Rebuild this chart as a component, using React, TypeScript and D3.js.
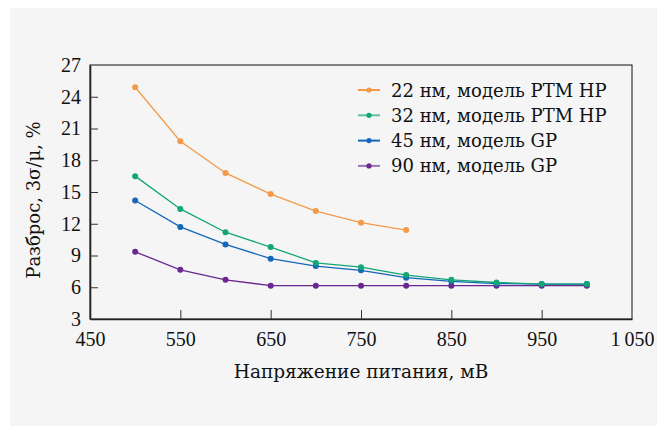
import React, { useEffect, useRef } from 'react';
import * as d3 from 'd3';

const voltages = [500, 550, 600, 650, 700, 750, 800, 850, 900, 950, 1000];
const seriesNames = [
  '22 нм, модель PTM HP',
  '32 нм, модель PTM HP',
  '45 нм, модель GP',
  '90 нм, модель GP',
];
const colors = ['#F39A4A', '#12A576', '#1467BA', '#69278F'];
const legendLineColors = ['#F39A4A', '#5CC29C', '#1467BA', '#9C73B8'];
const nm22 = [24.9, 19.8, 16.8, 14.8, 13.2, 12.1, 11.4];
const nm32 = [16.5, 13.4, 11.2, 9.8, 8.3, 7.9, 7.15, 6.7, 6.45, 6.3, 6.3];
const nm45 = [14.2, 11.7, 10.05, 8.7, 8.0, 7.6, 6.9, 6.55, 6.35, 6.3, 6.3];
const nm90 = [9.35, 7.65, 6.7, 6.15, 6.15, 6.15, 6.15, 6.15, 6.15, 6.15, 6.15];
const xTicks = [450, 550, 650, 750, 850, 950, 1050];
const yTicks = [3, 6, 9, 12, 15, 18, 21, 24, 27];

const font = '"DejaVu Serif", serif';
const tickFont = '"Liberation Serif", serif';

const App: React.FC = () => {
  const svgRef = useRef<SVGSVGElement>(null);

  useEffect(() => {
    if (!svgRef.current) return;
    const svg = d3.select(svgRef.current);
    svg.selectAll('*').remove();

    const width = 657;
    const height = 426;
    const margin = { top: 65, right: 25, bottom: 107, left: 90 };

    // background panel
    svg.append('rect')
      .attr('x', 10).attr('y', 8)
      .attr('width', width - 10).attr('height', height - 8)
      .attr('fill', '#f5f5f5');

    const x = d3.scaleLinear().domain([450, 1050]).range([margin.left, width - margin.right]);
    const y = d3.scaleLinear().domain([3, 27]).range([height - margin.bottom, margin.top]);

    const all = [nm22, nm32, nm45, nm90];

    // frame (top/right thin)
    svg.append('rect')
      .attr('x', x(450)).attr('y', y(27))
      .attr('width', x(1050) - x(450)).attr('height', y(3) - y(27))
      .attr('fill', 'none').attr('stroke', '#111').attr('stroke-width', 1);

    // x axis
    const xAxis = svg.append('g')
      .attr('transform', `translate(0,${y(3)})`)
      .call(d3.axisBottom(x).tickValues(xTicks).tickSizeInner(-9).tickSizeOuter(0)
        .tickPadding(13).tickFormat(d => d3.format(',')(d as number).replace(',', '\u2009')));
    xAxis.select('.domain').attr('stroke', '#222').attr('stroke-width', 1.6);
    xAxis.selectAll('.tick line').attr('stroke', '#333');
    xAxis.selectAll('.tick text').style('font-family', tickFont).style('font-size', '20px').attr('fill', '#111');
    xAxis.selectAll('.tick').filter((d: any) => d === 450 || d === 1050).select('line').remove();

    // y axis
    const yAxis = svg.append('g')
      .attr('transform', `translate(${x(450)},0)`)
      .call(d3.axisLeft(y).tickValues(yTicks).tickSizeInner(-8).tickSizeOuter(0).tickPadding(9));
    yAxis.select('.domain').attr('stroke', '#222').attr('stroke-width', 1.6);
    yAxis.selectAll('.tick line').attr('stroke', '#333');
    yAxis.selectAll('.tick text').style('font-family', tickFont).style('font-size', '20px').attr('fill', '#111');
    yAxis.selectAll('.tick').filter((d: any) => d === 3 || d === 27).select('line').remove();

    // lines, drawn back to front
    const line = d3.line<number>()
      .x((_, i) => x(voltages[i]))
      .y(d => y(d));

    [3, 2, 1, 0].forEach(k => {
      const vals = all[k];
      svg.append('path')
        .datum(vals)
        .attr('d', line)
        .attr('fill', 'none')
        .attr('stroke', colors[k])
        .attr('stroke-width', 1.3);
      svg.selectAll(`circle.s${k}`)
        .data(vals)
        .enter()
        .append('circle')
        .attr('class', `s${k}`)
        .attr('cx', (_, i) => x(voltages[i]))
        .attr('cy', d => y(d))
        .attr('r', 3)
        .attr('fill', colors[k]);
    });

    // legend
    const legend = svg.append('g').attr('transform', 'translate(358, 90)');
    seriesNames.forEach((name, i) => {
      const g = legend.append('g').attr('transform', `translate(0,${i * 25.3})`);
      g.append('line')
        .attr('x1', 0).attr('x2', 22).attr('y1', 0).attr('y2', 0)
        .attr('stroke', legendLineColors[i]).attr('stroke-width', 2);
      g.append('circle').attr('cx', 11).attr('cy', 0).attr('r', 2.6).attr('fill', colors[i]);
      g.append('text')
        .attr('x', 33).attr('y', 6.5)
        .style('font-family', font).style('font-size', '18px')
        .attr('fill', '#111')
        .text(name);
    });

    // axis titles
    svg.append('text')
      .attr('x', (x(450) + x(1050)) / 2)
      .attr('y', 378)
      .attr('text-anchor', 'middle')
      .style('font-family', font).style('font-size', '18.5px')
      .attr('fill', '#111')
      .text('Напряжение питания, мВ');

    svg.append('text')
      .attr('transform', `translate(40,200) rotate(-90)`)
      .attr('text-anchor', 'middle')
      .style('font-family', font).style('font-size', '18px')
      .attr('fill', '#111')
      .text('Разброс, 3σ/μ, %');
  }, []);

  return (
    <svg
      ref={svgRef}
      width={657}
      height={426}
      style={{ position: 'absolute', left: 0, top: 0 }}
    />
  );
};

export default App;
